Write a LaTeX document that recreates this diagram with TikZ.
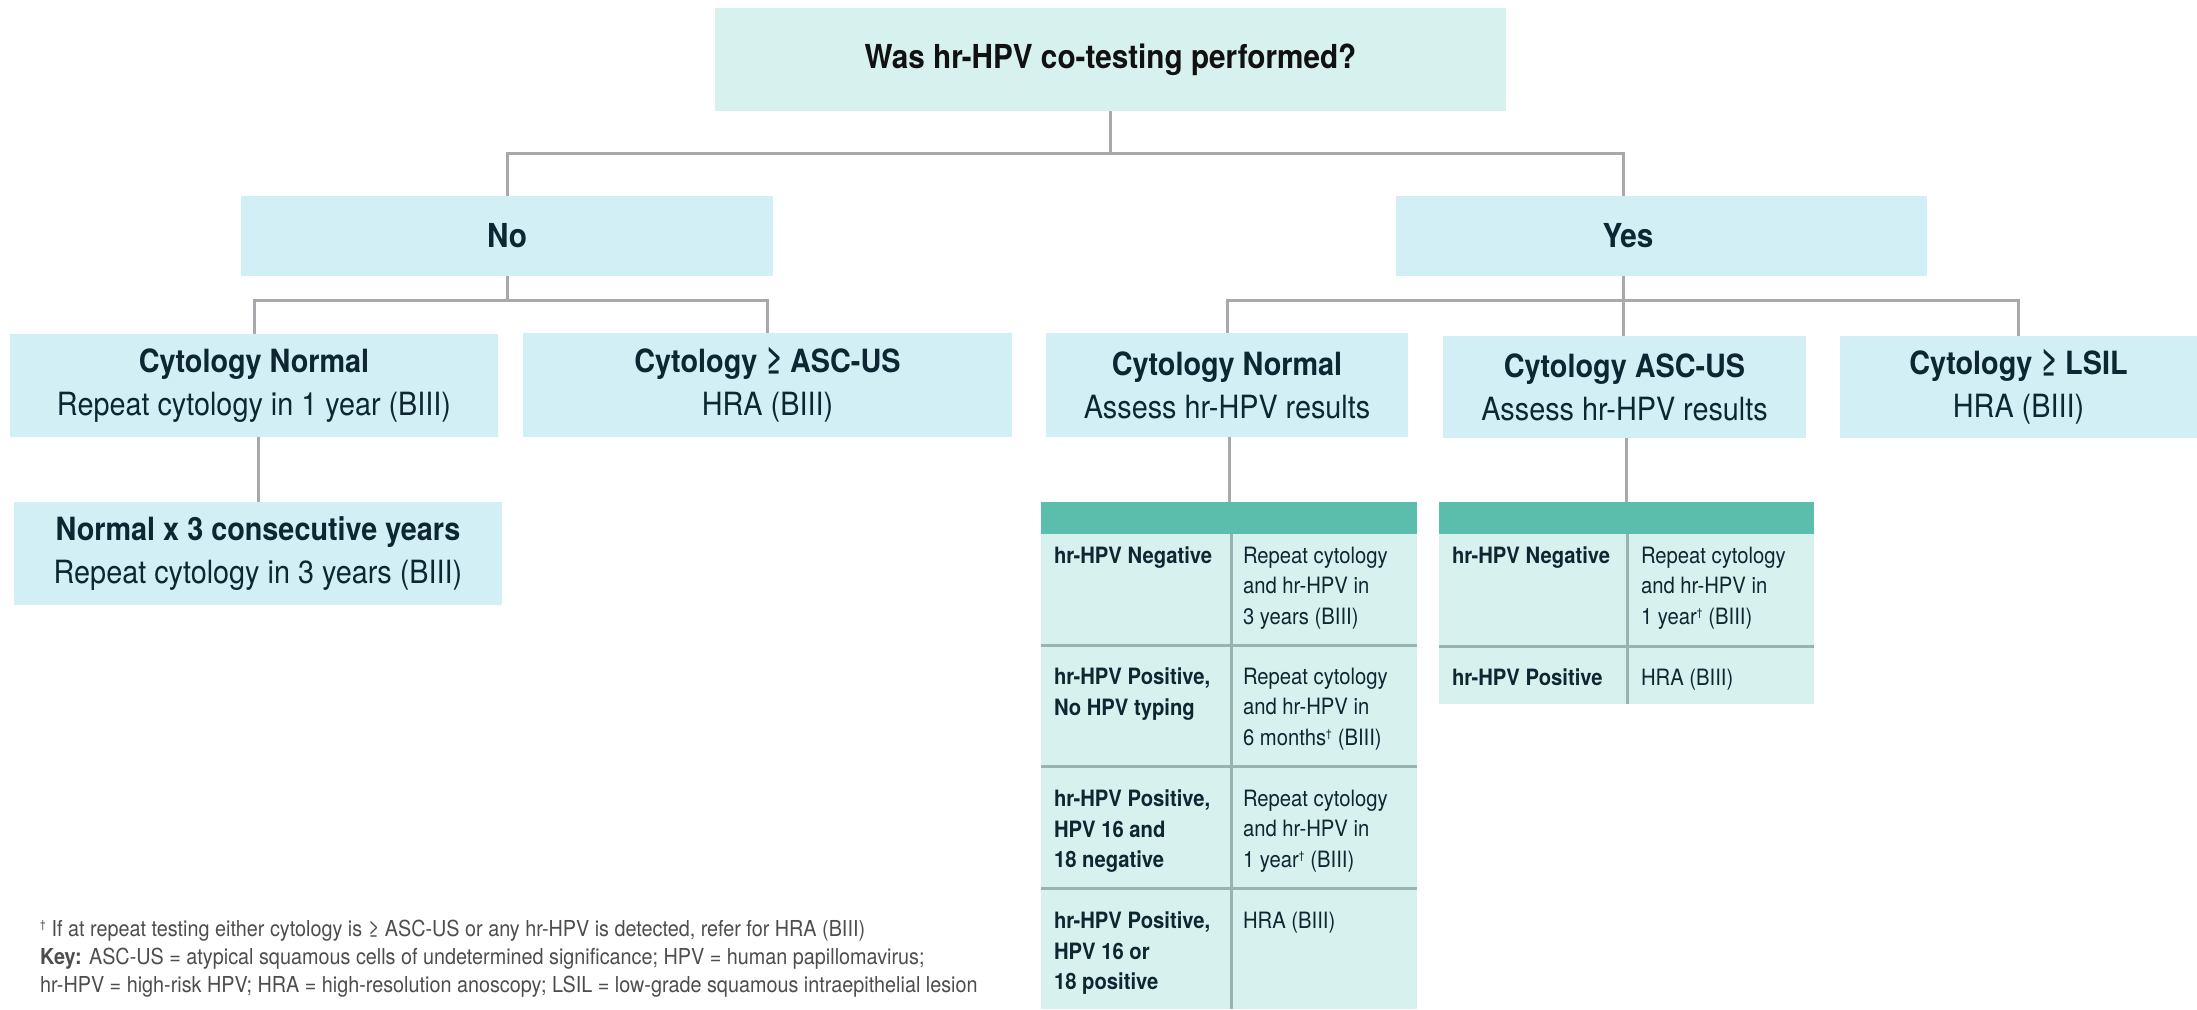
\documentclass[tikz,border=0pt]{standalone}
\usepackage{fontspec}
\setmainfont{TeX Gyre Heros}[FakeStretch=0.9]

\definecolor{boxblue}{HTML}{D3EFF6}
\definecolor{mint}{HTML}{D7F1EE}
\definecolor{headteal}{HTML}{5BBEAD}
\definecolor{gridline}{HTML}{9BB3B0}
\definecolor{linegray}{HTML}{A8A9AD}
\definecolor{ink}{HTML}{0C2731}
\definecolor{titleink}{HTML}{111111}
\definecolor{notegray}{HTML}{4D4D4F}

% small raised dagger for footnote marks
\newcommand{\sdag}{\textsuperscript{\fontsize{11}{11}\selectfont †}}

\begin{document}
\begin{tikzpicture}[x=1pt,y=-1pt,
  box/.style={fill=boxblue, inner sep=0pt, outer sep=0pt, align=center, text=ink,
              font=\fontsize{32}{43}\selectfont},
  conn/.style={draw=linegray, line width=3pt, line join=miter},
  gridrule/.style={draw=gridline, line width=3pt},
  cell/.style={anchor=north west, inner sep=0pt, outer sep=0pt, align=left, text=ink,
               font=\fontsize{22.5}{30.5}\selectfont},
  note/.style={anchor=base west, inner sep=0pt, text=notegray,
               font=\fontsize{22}{28}\selectfont}]

\useasboundingbox (0,0) rectangle (2197,1009);

% question and the two answers
\node[box, fill=mint, minimum width=791pt, minimum height=103pt,
      font=\fontsize{33}{40}\selectfont\bfseries, text=titleink]
  (top) at (1110.5,59.5) {Was hr-HPV co-testing performed?};
\node[box, minimum width=532pt, minimum height=80pt, font=\fontsize{33}{40}\selectfont\bfseries]
  (no) at (507,236) {No};
\node[box, minimum width=531pt, minimum height=80pt, font=\fontsize{33}{40}\selectfont\bfseries]
  (yes) at (1661.5,236) {Yes\hspace*{67pt}};

% no co-testing branch
\node[box, minimum width=488pt, minimum height=103pt] (cnl) at (254,385.5)
  {{\bfseries Cytology Normal}\\Repeat cytology in 1 year (BIII)};
\node[box, minimum width=489pt, minimum height=104pt] (cal) at (767.5,385)
  {{\bfseries Cytology ≥ ASC-US}\\HRA (BIII)};
\node[box, minimum width=488pt, minimum height=103pt] (nx3) at (258,553.5)
  {{\bfseries Normal x 3 consecutive years}\\Repeat cytology in 3 years (BIII)};

% co-testing branch
\node[box, minimum width=362pt, minimum height=104pt] (cnr) at (1227,385)
  {{\bfseries Cytology Normal}\\Assess hr-HPV results};
\node[box, minimum width=363pt, minimum height=102pt] (cay) at (1624.5,387)
  {{\bfseries Cytology ASC-US}\\Assess hr-HPV results};
\node[box, minimum width=357pt, minimum height=102pt] (lsil) at (2018.5,387)
  {{\bfseries Cytology ≥ LSIL}\\HRA (BIII)};

% result tables
\fill[mint] (1041,534) rectangle (1417,1009);
\node[fill=headteal, inner sep=0pt, outer sep=0pt, minimum width=376pt, minimum height=32pt]
  (t1h) at (1229,518) {};
\draw[gridrule] (1041,645) -- (1417,645);
\draw[gridrule] (1041,766) -- (1417,766);
\draw[gridrule] (1041,888) -- (1417,888);
\draw[gridrule] (1231,534) -- (1231,1009);

\fill[mint] (1439,534) rectangle (1814,704);
\node[fill=headteal, inner sep=0pt, outer sep=0pt, minimum width=375pt, minimum height=32pt]
  (t2h) at (1626.5,518) {};
\draw[gridrule] (1439,646) -- (1814,646);
\draw[gridrule] (1627,534) -- (1627,704);

\node[cell] (t1r1a) at (1054,547) {\bfseries hr-HPV Negative};
\node[cell] (t1r1b) at (1243,547) {Repeat cytology\\and hr-HPV in\\3 years (BIII)};
\node[cell] (t1r2a) at (1054,668) {\bfseries hr-HPV Positive,\\\bfseries No HPV typing};
\node[cell] (t1r2b) at (1243,668) {Repeat cytology\\and hr-HPV in\\6 months\sdag{} (BIII)};
\node[cell] (t1r3a) at (1054,790) {\bfseries hr-HPV Positive,\\\bfseries HPV 16 and\\\bfseries 18 negative};
\node[cell] (t1r3b) at (1243,790) {Repeat cytology\\and hr-HPV in\\1 year\sdag{} (BIII)};
\node[cell] (t1r4a) at (1054,912) {\bfseries hr-HPV Positive,\\\bfseries HPV 16 or\\\bfseries 18 positive};
\node[cell] (t1r4b) at (1243,912) {HRA (BIII)};

\node[cell] (t2r1a) at (1452,547) {\bfseries hr-HPV Negative};
\node[cell] (t2r1b) at (1641,547) {Repeat cytology\\and hr-HPV in\\1 year\sdag{} (BIII)};
\node[cell] (t2r2a) at (1452,669) {\bfseries hr-HPV Positive};
\node[cell] (t2r2b) at (1641,669) {HRA (BIII)};

% connectors
\coordinate (bus0) at (0,153);
\coordinate (bus1) at (0,300);
\coordinate (ycol) at (1623,0);
\draw[conn] (top.south) -- (top.south |- bus0);
\draw[conn] (no.north) -- (no.north |- bus0) -- (ycol |- bus0) -- (yes.north -| ycol);
\draw[conn] (no.south) -- (no.south |- bus1);
\draw[conn] (cnl.north) -- (cnl.north |- bus1) -- (cal.north |- bus1) -- (cal.north);
\draw[conn] (yes.south -| ycol) -- (cay.north -| ycol);
\draw[conn] (cnr.north) -- (cnr.north |- bus1) -- (lsil.north |- bus1) -- (lsil.north);
\draw[conn] (nx3.north |- cnl.south) -- (nx3.north);
\draw[conn] (t1h.north |- cnr.south) -- (t1h.north);
\draw[conn] (t2h.north |- cay.south) -- (t2h.north);

% footnote and key
\node[note] (fn1) at (40,936)
  {\sdag{} If at repeat testing either cytology is ≥ ASC-US or any hr-HPV is detected, refer for HRA (BIII)};
\node[note] (fn2) at (40,964)
  {\textbf{Key:} ASC-US = atypical squamous cells of undetermined significance; HPV = human papillomavirus;};
\node[note] (fn3) at (40,992)
  {hr-HPV = high-risk HPV; HRA = high-resolution anoscopy; LSIL = low-grade squamous intraepithelial lesion};

\end{tikzpicture}
\end{document}
